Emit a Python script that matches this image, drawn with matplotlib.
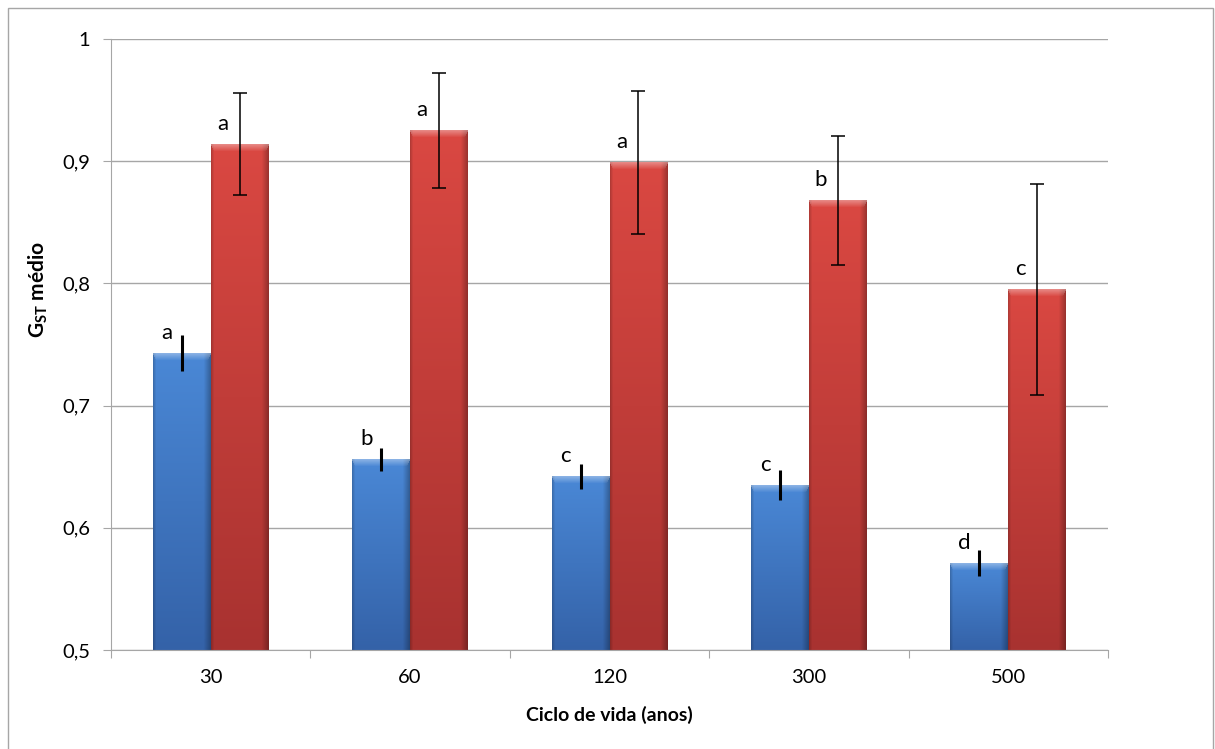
import numpy as np
import matplotlib.pyplot as plt
from matplotlib.patches import Rectangle
from matplotlib.ticker import FuncFormatter, FixedLocator

plt.rcParams['font.family'] = ['Lato', 'DejaVu Sans']
plt.rcParams['mathtext.fontset'] = 'custom'
plt.rcParams['mathtext.rm'] = 'Lato'
plt.rcParams['mathtext.bf'] = 'Lato:weight=bold'

# dados: GST médio por ciclo de vida
ciclos = ['30', '60', '120', '300', '500']
gst_azul = [0.743, 0.656, 0.642, 0.635, 0.571]
err_azul = [0.0145, 0.0095, 0.0105, 0.0125, 0.0105]
gst_verm = [0.914, 0.925, 0.899, 0.868, 0.795]
err_verm = [0.0415, 0.047, 0.0585, 0.053, 0.086]
letras_azul = ['a', 'b', 'c', 'c', 'd']
letras_verm = ['a', 'a', 'a', 'b', 'c']

YMIN, YMAX = 0.5, 1.0
LARG = 0.29
CINZA = '#a6a6a6'

fig = plt.figure(figsize=(12.15, 7.49), dpi=100)
ax = fig.add_axes([111/1215, 1 - 650/749, (1108-111)/1215, (650-39)/749])
px_por_unid = (650 - 39) / (YMAX - YMIN)


def barra(ax, xc, topo, cima, baixo):
    "barra com degradê estilo excel"
    cima = np.array(cima) / 255.0
    baixo = np.array(baixo) / 255.0
    ny = max(int(round((topo - YMIN) * px_por_unid)), 2)
    nx = 60
    t = np.linspace(0, 1, ny)[:, None, None]
    img = (1 - t) * cima + t * baixo
    u = np.linspace(0, 1, nx)
    perfil = (1 - 0.28 * np.clip((u - 0.88) / 0.12, 0, 1)
              - 0.18 * np.clip((0.05 - u) / 0.05, 0, 1))
    img = img * perfil[None, :, None]
    # chanfro no topo
    k = min(7, ny)
    for i in range(k):
        a = 0.35 * (1 - i / k)
        lo = int(nx * 0.02 * i / k * 3)
        img[i, lo:nx - lo] = img[i, lo:nx - lo] * (1 - a) + a
    img = np.clip(img, 0, 1)
    ax.imshow(img, extent=(xc - LARG/2, xc + LARG/2, YMIN, topo), origin='upper',
              aspect='auto', interpolation='bilinear', zorder=2)


x = np.arange(len(ciclos))
for i in x:
    xa, xv = i - LARG/2, i + LARG/2
    barra(ax, xa, gst_azul[i], (74, 136, 214), (52, 98, 168))
    barra(ax, xv, gst_verm[i], (218, 72, 66), (168, 50, 48))
    ax.text(xa - 0.075, gst_azul[i] + 0.0165, letras_azul[i], fontsize=16,
            ha='center', va='center', zorder=4)
    ax.text(xv - 0.085, gst_verm[i] + 0.0165, letras_verm[i], fontsize=16,
            ha='center', va='center', zorder=4)

ax.errorbar(x - LARG/2, gst_azul, yerr=err_azul, fmt='none', ecolor='black',
            elinewidth=2.2, capsize=0, zorder=3)
ax.errorbar(x + LARG/2, gst_verm, yerr=err_verm, fmt='none', ecolor='black',
            elinewidth=1.1, capsize=5, capthick=1.1, zorder=3)

ax.set_xlim(-0.5, len(ciclos) - 0.5)
ax.set_ylim(YMIN, YMAX)
ax.set_yticks(np.arange(0.5, 1.01, 0.1))
ax.yaxis.set_major_formatter(FuncFormatter(lambda v, p: ('%g' % round(v, 1)).replace('.', ',')))
ax.grid(axis='y', color=CINZA, lw=1, zorder=0)
ax.set_axisbelow(True)

ax.xaxis.set_major_locator(FixedLocator(np.arange(-0.5, len(ciclos), 1)))
ax.xaxis.set_major_formatter(FuncFormatter(lambda v, p: ''))
ax.xaxis.set_minor_locator(FixedLocator(x))
ax.set_xticklabels(ciclos, minor=True)
ax.tick_params(axis='x', which='major', length=6, color=CINZA, direction='out')
ax.tick_params(axis='x', which='minor', length=0, pad=14, labelsize=14.5)
ax.tick_params(axis='y', length=6, color=CINZA, direction='out', pad=9, labelsize=14.5)

for s in ['top', 'right']:
    ax.spines[s].set_visible(False)
for s in ['left', 'bottom']:
    ax.spines[s].set_color(CINZA)

ax.set_xlabel('Ciclo de vida (anos)', fontsize=14, fontweight='bold', labelpad=14)
ax.set_ylabel(r'$\mathbf{G}_{\mathbf{ST}}$ médio', fontsize=15, fontweight='bold')
ax.yaxis.set_label_coords(-0.061, 0.59)

# moldura do gráfico
fig.patches.append(Rectangle((8/1215, -0.02), (1213-8)/1215, 1.02 - 8/749,
                             transform=fig.transFigure, fill=False,
                             edgecolor=CINZA, lw=1))

fig.savefig('out.png', dpi=100)
